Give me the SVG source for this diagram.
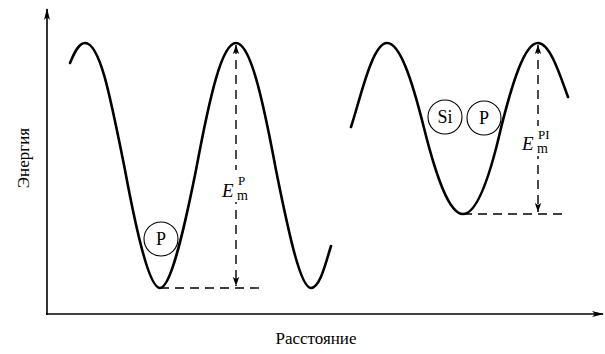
<svg xmlns="http://www.w3.org/2000/svg" width="605" height="354" viewBox="0 0 605 354">
<defs>
<marker id="ah" markerWidth="12" markerHeight="8" refX="11" refY="4" orient="auto" markerUnits="userSpaceOnUse">
<path d="M0,1 L12,4 L0,7 L3,4 Z" fill="#000"/>
</marker>
<marker id="dh" markerWidth="10" markerHeight="8" refX="9" refY="4" orient="auto-start-reverse" markerUnits="userSpaceOnUse">
<path d="M0,0.8 L9,4 L0,7.2 L2,4 Z" fill="#000"/>
</marker>
</defs>
<g id="axes" fill="none" stroke="#000" stroke-width="1.6">
<line x1="47" y1="315" x2="47" y2="9" marker-end="url(#ah)"/>
<line x1="46" y1="314" x2="603" y2="314" marker-end="url(#ah)"/>
</g>
<g id="axis-labels" font-family="Times New Roman, Liberation Serif, serif" font-size="17" text-anchor="middle" fill="#000">
<text x="29" y="158" transform="rotate(-90 29 158)">Энергия</text>
<text x="316" y="344">Расстояние</text>
</g>
<g id="curves" fill="none" stroke="#000" stroke-width="2.6" stroke-linejoin="round" stroke-linecap="round">
<path id="curve-left" d="M70,63 C73,56 78,43 85,43 C100,43 110,95 125,170 C138,240 150,288 160,288 C170,288 182,240 196,170 C210,95 222,43 236,43 C250,43 262,95 276,170 C290,240 301,288 311,288 C320,288 326,262 331,246"/>
<path id="curve-right" d="M351,127 C360,100 372,43 387,43 C400,43 412,80 424,128 C436,176 449,214 463,214 C477,214 490,176 501,128 C513,80 525,43 538,43 C550,43 560,75 568,97"/>
</g>
<g id="connectors" fill="none" stroke="#000" stroke-width="1.4" stroke-dasharray="9 6">
<line x1="160" y1="288" x2="263" y2="288"/>
<line x1="236" y1="45" x2="236" y2="286" marker-start="url(#dh)" marker-end="url(#dh)"/>
<line x1="463" y1="214" x2="565" y2="214"/>
<line x1="538" y1="45" x2="538" y2="212" marker-start="url(#dh)" marker-end="url(#dh)"/>
</g>
<g id="atom-P-left">
<circle cx="161" cy="239" r="17" fill="#fff" stroke="#000" stroke-width="1.1"/>
<text x="161" y="245" font-family="Times New Roman, Liberation Serif, serif" font-size="18" text-anchor="middle">P</text>
</g>
<g id="atom-Si">
<circle cx="445" cy="117" r="17" fill="#fff" stroke="#000" stroke-width="1.1"/>
<text x="445" y="123" font-family="Times New Roman, Liberation Serif, serif" font-size="18" text-anchor="middle">Si</text>
</g>
<g id="atom-P-right">
<circle cx="484" cy="118" r="17" fill="#fff" stroke="#000" stroke-width="1.1"/>
<text x="484" y="124" font-family="Times New Roman, Liberation Serif, serif" font-size="18" text-anchor="middle">P</text>
</g>
<g id="label-EmP" font-family="Times New Roman, Liberation Serif, serif">
<rect x="221" y="170" width="32" height="32" fill="#fff"/>
<text x="222" y="197" font-size="19" font-style="italic">E</text>
<text x="238" y="185" font-size="13">P</text>
<text x="237" y="200" font-size="14">m</text>
</g>
<g id="label-EmPI" font-family="Times New Roman, Liberation Serif, serif">
<rect x="521" y="126" width="34" height="30" fill="#fff"/>
<text x="522" y="150" font-size="19" font-style="italic">E</text>
<text x="538" y="139" font-size="13">PI</text>
<text x="537" y="153" font-size="14">m</text>
</g>
</svg>
